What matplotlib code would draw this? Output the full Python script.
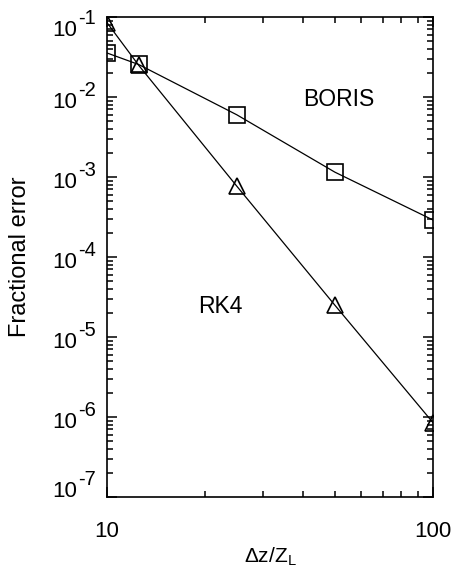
import numpy as np
import matplotlib
matplotlib.use('Agg')
import matplotlib.pyplot as plt
from matplotlib.ticker import LogLocator, FixedLocator, NullFormatter

plt.rcParams['font.family'] = ['Liberation Sans', 'DejaVu Sans']
plt.rcParams['mathtext.fontset'] = 'custom'
plt.rcParams['mathtext.rm'] = 'Liberation Sans'
plt.rcParams['mathtext.it'] = 'Liberation Sans'
plt.rcParams['mathtext.sf'] = 'Liberation Sans'

# step size in units of Larmor length
dz = [10, 12.5, 25, 50, 100]
boris_err = [3.55e-2, 2.55e-2, 6.0e-3, 1.15e-3, 2.9e-4]
rk4_err = [8.5e-2, 2.5e-2, 7.7e-4, 2.5e-5, 8.5e-7]

xticks = [10, 100]
xtick_labels = ['10', '100']
yexp = [-7, -6, -5, -4, -3, -2, -1]

fig = plt.figure(figsize=(4.53, 5.8), dpi=100)
ax = fig.add_axes([107 / 453, 1 - 497 / 580, 326 / 453, 480 / 580])

ax.plot(dz, boris_err, color='black', lw=0.9, marker='s', ms=12,
        mfc='none', mec='black', mew=1.2)
ax.plot(dz, rk4_err, color='black', lw=0.9, marker='^', ms=11,
        mfc='none', mec='black', mew=1.2)

ax.set_xscale('log')
ax.set_yscale('log')
ax.set_xlim(10, 100)
ax.set_ylim(1e-7, 1e-1)

ax.xaxis.set_major_locator(FixedLocator(xticks))
ax.set_xticklabels(xtick_labels)
ax.xaxis.set_minor_locator(LogLocator(base=10, subs=np.arange(2, 10)))
ax.xaxis.set_minor_formatter(NullFormatter())
ax.yaxis.set_major_locator(FixedLocator([10.0 ** e for e in yexp]))
ax.yaxis.set_major_formatter(NullFormatter())
ax.yaxis.set_minor_locator(LogLocator(base=10, subs=np.arange(2, 10), numticks=20))
ax.yaxis.set_minor_formatter(NullFormatter())

ax.tick_params(which='both', direction='in', top=True, right=True, width=1.1)
ax.tick_params(axis='x', which='major', length=7, pad=17, labelsize=16)
ax.tick_params(axis='y', which='major', length=7)
ax.tick_params(which='minor', length=4)
for sp in ax.spines.values():
    sp.set_linewidth(1.2)

# IDL style 10^n labels, end labels nudged to stay inside the frame
ytr = ax.get_yaxis_transform()
for e in yexp:
    shift = {-7: 11, -1: -8}.get(e, 0)
    ax.annotate('10', xy=(0, 10.0 ** e), xycoords=ytr, xytext=(-30, -11 + shift),
                textcoords='offset pixels', ha='right', va='baseline', fontsize=16)
    ax.annotate('%d' % e, xy=(0, 10.0 ** e), xycoords=ytr, xytext=(-29, 1 + shift),
                textcoords='offset pixels', ha='left', va='baseline', fontsize=14.5)

ax.text(40, 7.8e-3, 'BORIS', fontsize=16.5)
ax.text(19, 2.0e-5, 'RK4', fontsize=16.5)

ax.set_xlabel(r'$\mathregular{\Delta z/Z_L}$', fontsize=15, labelpad=3)
ax.set_ylabel('Fractional error', fontsize=17)
ax.yaxis.set_label_coords((31 - 107) / 326, 0.5)

fig.savefig('out.png', dpi=100)
